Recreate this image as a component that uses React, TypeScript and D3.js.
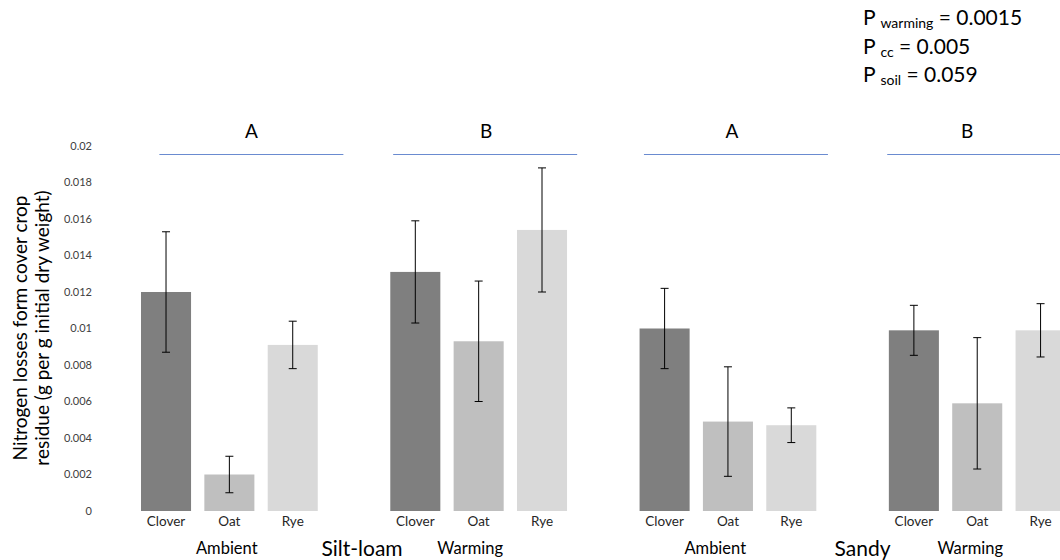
import React from "react";
import * as d3 from "d3";

// ---------- data ----------
const soils = ["Silt-loam", "Sandy"];
const treatments = ["Ambient", "Warming"];
const crops = ["Clover", "Oat", "Rye"];

// one value per group: Silt-loam/Ambient, Silt-loam/Warming, Sandy/Ambient, Sandy/Warming
const cloverMeans = [0.0120, 0.0131, 0.0100, 0.0099];
const oatMeans = [0.0020, 0.0093, 0.0049, 0.0059];
const ryeMeans = [0.0091, 0.0154, 0.0047, 0.0099];
const cloverErr = [0.0033, 0.0028, 0.0022, 0.00137];
const oatErr = [0.0010, 0.0033, 0.0030, 0.0036];
const ryeErr = [0.0013, 0.0034, 0.00095, 0.00146];

const groupLetters = ["A", "B", "A", "B"];

const yTickValues = [0, 0.002, 0.004, 0.006, 0.008, 0.01, 0.012, 0.014, 0.016, 0.018, 0.02];
const yTickLabels = ["0", "0.002", "0.004", "0.006", "0.008", "0.01", "0.012", "0.014", "0.016", "0.018", "0.02"];

const pNames = ["warming", "cc", "soil"];
const pValues = ["0.0015", "0.005", "0.059"];

const yTitleLines = ["Nitrogen losses form cover crop", "residue (g per g initial dry weight)"];

// ---------- layout ----------
const W = 1060;
const H = 560;
const FONT = "Lato, 'Open Sans', sans-serif";
const cropColors = ["#7f7f7f", "#bfbfbf", "#d9d9d9"];
const lineOffsets = [22, 6.5, 8, 2];
const letterOffsets = [22, 7.5, 4, -10];
const groupLabelOffsets = [-2.6, -8.5, -12.7, -7];
const soilLabelOffsets = [8, 10];
const lineLen = 184;

export default function App() {
  const groups: { soil: string; treatment: string; key: string }[] = [];
  soils.forEach((s) =>
    treatments.forEach((t) => groups.push({ soil: s, treatment: t, key: s + "|" + t }))
  );
  const means = [cloverMeans, oatMeans, ryeMeans];
  const errs = [cloverErr, oatErr, ryeErr];

  const y = d3.scaleLinear().domain([0, 0.02]).range([511, 146]);
  const x0 = d3
    .scaleBand<string>()
    .domain(groups.map((g) => g.key))
    .range([141, 1065.6])
    .paddingInner(0.291)
    .paddingOuter(0);
  const x1 = d3
    .scaleBand<string>()
    .domain(crops)
    .range([0, x0.bandwidth()])
    .paddingInner(0.21)
    .paddingOuter(0);

  const bw = x1.bandwidth();
  const cap = 4;

  return (
    <svg
      width={W}
      height={H}
      style={{ position: "absolute", left: 0, top: 0, background: "#fff" }}
      fontFamily={FONT}
    >
      <rect x={0} y={0} width={W} height={H} fill="#fff" />

      {/* y tick labels */}
      {yTickValues.map((v, i) => (
        <text
          key={"yt" + i}
          x={92}
          y={y(v)}
          dy="0.35em"
          textAnchor="end"
          fontSize={11}
          fill="#404040"
        >
          {yTickLabels[i]}
        </text>
      ))}

      {/* y title */}
      <g transform={`translate(20, ${328}) rotate(-90)`}>
        <text x={0} y={0} dy="0.35em" textAnchor="middle" fontSize={19} fill="#000">
          {yTitleLines[0]}
        </text>
        <text x={0} y={22} dy="0.35em" textAnchor="middle" fontSize={19} fill="#000">
          {yTitleLines[1]}
        </text>
      </g>

      {/* bars */}
      {groups.map((g, gi) => (
        <g key={g.key} transform={`translate(${x0(g.key)},0)`}>
          {crops.map((c, ci) => {
            const v = means[ci][gi];
            const e = errs[ci][gi];
            const bx = x1(c)!;
            const cx = bx + bw / 2;
            return (
              <g key={c}>
                <rect
                  x={bx}
                  y={y(v)}
                  width={bw}
                  height={y(0) - y(v)}
                  fill={cropColors[ci]}
                />
                <line x1={cx} x2={cx} y1={y(v + e)} y2={y(v - e)} stroke="#000" strokeWidth={1} />
                <line x1={cx - cap} x2={cx + cap} y1={y(v + e)} y2={y(v + e)} stroke="#000" strokeWidth={1} />
                <line x1={cx - cap} x2={cx + cap} y1={y(v - e)} y2={y(v - e)} stroke="#000" strokeWidth={1} />
                <text x={cx} y={526} textAnchor="middle" fontSize={13.5} fill="#262626">
                  {c}
                </text>
              </g>
            );
          })}
        </g>
      ))}

      {/* significance letters and lines */}
      {groups.map((g, gi) => {
        const c = x0(g.key)! + x0.bandwidth() / 2;
        const lc = c + lineOffsets[gi];
        return (
          <g key={"sig" + gi}>
            <line
              x1={lc - lineLen / 2}
              x2={lc + lineLen / 2}
              y1={154.5}
              y2={154.5}
              stroke="#6a8bd0"
              strokeWidth={1.2}
            />
            <text
              x={c + letterOffsets[gi]}
              y={138}
              textAnchor="middle"
              fontSize={19}
              fill="#000"
            >
              {groupLetters[gi]}
            </text>
          </g>
        );
      })}

      {/* treatment labels */}
      {groups.map((g, gi) => (
        <text
          key={"tl" + gi}
          x={x0(g.key)! + x0.bandwidth() / 2 + groupLabelOffsets[gi]}
          y={554}
          textAnchor="middle"
          fontSize={16.5}
          fill="#000"
        >
          {g.treatment}
        </text>
      ))}

      {/* soil labels */}
      {soils.map((s, si) => {
        const a = x0(s + "|" + treatments[0])! + x0.bandwidth() / 2;
        const b = x0(s + "|" + treatments[1])! + x0.bandwidth() / 2;
        return (
          <text
            key={"sl" + si}
            x={(a + b) / 2 + soilLabelOffsets[si]}
            y={556}
            textAnchor="middle"
            fontSize={21}
            fill="#000"
          >
            {s}
          </text>
        );
      })}

      {/* P values */}
      {pNames.map((n, i) => (
        <text key={"p" + i} x={863} y={25 + i * 28.5} fontSize={21} fill="#000">
          <tspan>P </tspan>
          <tspan fontSize={14} dy={3}>
            {n}
          </tspan>
          <tspan dy={-3}>{" = " + pValues[i]}</tspan>
        </text>
      ))}
    </svg>
  );
}
